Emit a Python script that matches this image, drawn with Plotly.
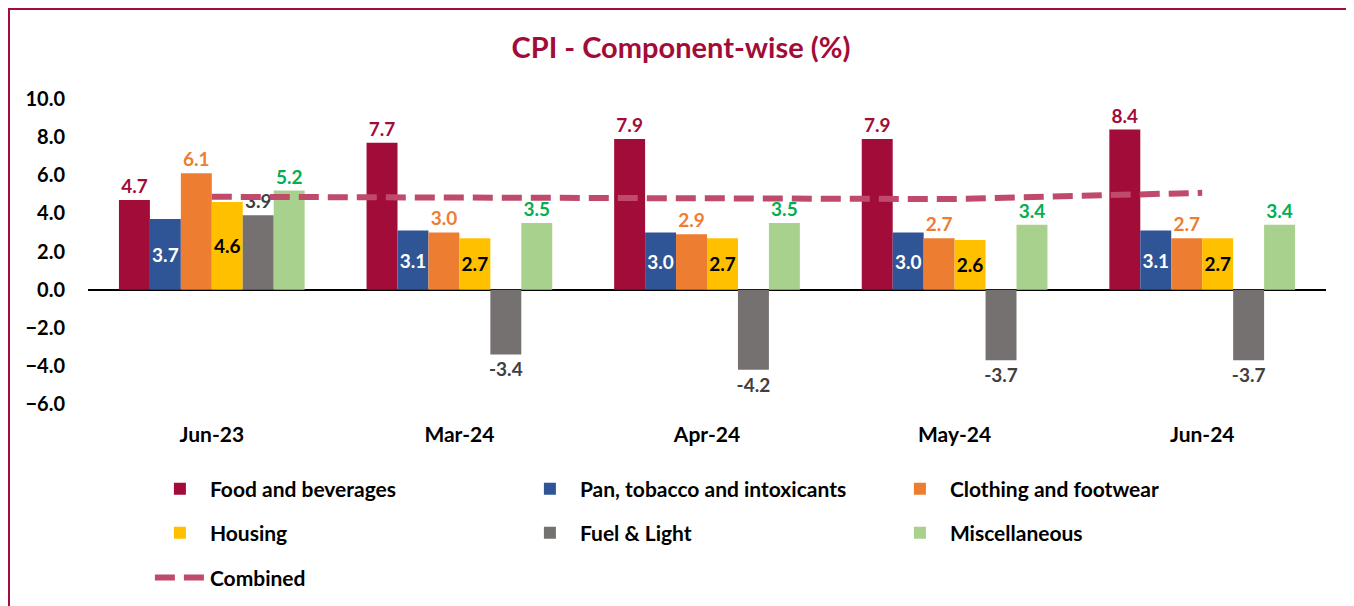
import plotly.graph_objects as go

# data
months = ['Jun-23', 'Mar-24', 'Apr-24', 'May-24', 'Jun-24']
food = [4.7, 7.7, 7.9, 7.9, 8.4]
pan = [3.7, 3.1, 3.0, 3.0, 3.1]
clothing = [6.1, 3.0, 2.9, 2.7, 2.7]
housing = [4.6, 2.7, 2.7, 2.6, 2.7]
fuel = [3.9, -3.4, -4.2, -3.7, -3.7]
misc = [5.2, 3.5, 3.5, 3.4, 3.4]
combined = [4.87, 4.85, 4.83, 4.75, 5.08]

FONT = "Lato"
RED = "#A20C38"

# (name, values, bar colour, label colour, label position, legend row)
series = [
    ('Food and beverages', food, RED, RED, 'outside', 'legend'),
    ('Pan, tobacco and intoxicants', pan, '#2F5597', '#FFFFFF', 'inside', 'legend'),
    ('Clothing and footwear', clothing, '#ED7D31', '#ED7D31', 'outside', 'legend'),
    ('Housing', housing, '#FFC000', '#000000', 'inside', 'legend2'),
    ('Fuel & Light', fuel, '#767171', '#404040', 'outside', 'legend2'),
    ('Miscellaneous', misc, '#A9D18E', '#00B050', 'outside', 'legend2'),
]

fig = go.Figure()

for name, vals, col, tcol, pos, leg in series:
    fig.add_trace(go.Bar(
        x=months, y=vals, name=name, legend=leg,
        marker=dict(color=col, line=dict(width=0)),
        text=[f'{v:.1f}' for v in vals],
        textposition=pos,
        textangle=0,
        constraintext='none',
        insidetextanchor='middle',
        textfont=dict(family=FONT, size=19, color=tcol, weight='bold'),
        cliponaxis=False,
    ))

fig.add_trace(go.Scatter(
    x=months, y=combined, name='Combined', mode='lines', legend='legend3',
    line=dict(color='#BF4A6B', width=6, dash='20px,9px'),
))

fig.update_yaxes(
    range=[-6, 10], dtick=2, tickformat='.1f',
    showgrid=False, showline=False,
    zeroline=True, zerolinecolor='#000', zerolinewidth=2,
    ticklabelstandoff=22,
    tickfont=dict(family=FONT, size=20, color='#000', weight='bold'),
)

fig.update_xaxes(
    showgrid=False, showline=False, ticks='',
    ticklabelstandoff=16,
    tickfont=dict(family=FONT, size=21, color='#000', weight='bold'),
)

leg_font = dict(family=FONT, size=21, color='#000', weight='bold')
leg_common = dict(
    orientation='h', x=0.05, xanchor='left', yanchor='middle',
    entrywidth=305, entrywidthmode='pixels', font=leg_font,
    traceorder='normal', itemwidth=50, bgcolor='rgba(0,0,0,0)',
)

# the page adds an 8px body margin, so the figure is drawn 8px smaller
fig.update_layout(
    width=1346, height=598,
    title=dict(
        text='<b>CPI - Component-wise (%)</b>',
        font=dict(family=FONT, size=29, color=RED),
        x=0.5, xref='container', xanchor='center',
        y=0.933, yref='container', yanchor='middle',
    ),
    barmode='group', bargap=0.25, bargroupgap=0,
    legend=dict(y=-0.279, **leg_common),
    legend2=dict(y=-0.423, **leg_common),
    legend3=dict(y=-0.570, **leg_common),
    margin=dict(l=80, r=28, t=91, b=202, autoexpand=False),
    plot_bgcolor='#fff',
    paper_bgcolor='#fff',
    showlegend=True,
)

# dark red frame around the whole chart
fig.add_shape(
    type='rect', xref='paper', yref='paper',
    x0=-79 / 1238, x1=1.025, y0=-0.7, y1=1 + 90 / 305,
    line=dict(color=RED, width=2), fillcolor='rgba(0,0,0,0)', layer='below',
)

fig.write_html("out.html")
